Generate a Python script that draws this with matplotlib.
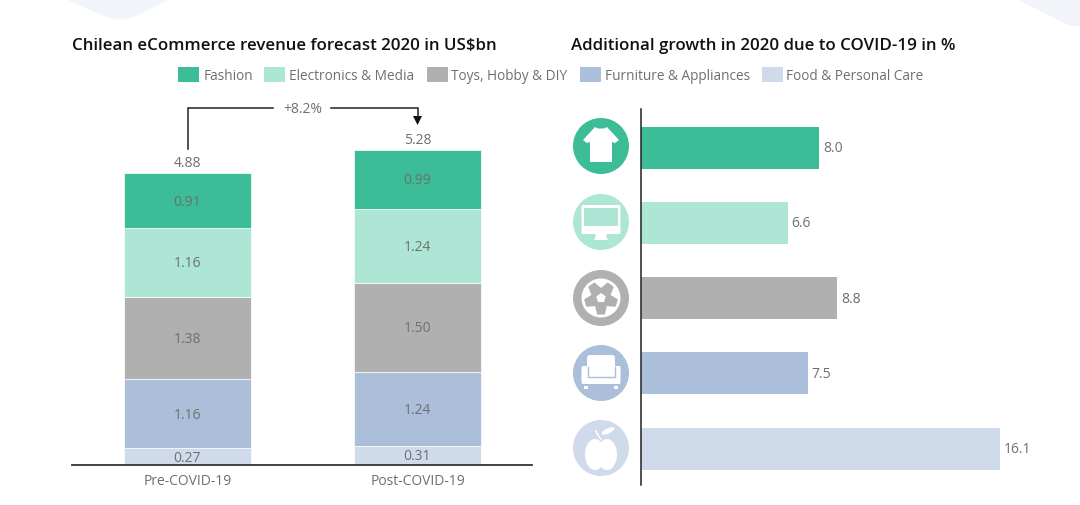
import math
import matplotlib
matplotlib.use("Agg")
import matplotlib.pyplot as plt
from matplotlib.patches import Circle, Polygon, Rectangle, FancyBboxPatch, Ellipse

plt.rcParams['font.family'] = ['Open Sans', 'DejaVu Sans']

# ---- data
categories = ["Fashion", "Electronics & Media", "Toys, Hobby & DIY", "Furniture & Appliances", "Food & Personal Care"]
colors = ["#3CBD97", "#AEE6D6", "#B0B0B0", "#ABBFDB", "#CFDBEA"]
periods = ["Pre-COVID-19", "Post-COVID-19"]
pre_values = [0.91, 1.16, 1.38, 1.16, 0.27]
post_values = [0.99, 1.24, 1.50, 1.24, 0.31]
totals = ["4.88", "5.28"]
pre_labels = ["0.91", "1.16", "1.38", "1.16", "0.27"]
post_labels = ["0.99", "1.24", "1.50", "1.24", "0.31"]
growth = [8.0, 6.6, 8.8, 7.5, 16.1]
change_label = "+8.2%"
title_left = "Chilean eCommerce revenue forecast 2020 in US$bn"
title_right = "Additional growth in 2020 due to COVID-19 in %"

W, H = 1080, 506
TXT = "#6f6f6f"
FS = 10
fig = plt.figure(figsize=(W / 100, H / 100), dpi=100, facecolor="white")

def axes_px(x0, y0, x1, y1, **kw):
    return fig.add_axes([x0 / W, 1 - y1 / H, (x1 - x0) / W, (y1 - y0) / H], **kw)

# pixel overlay (decorations, legend, icons)
bg = axes_px(0, 0, W, H, zorder=0)
bg.set_xlim(0, W); bg.set_ylim(H, 0); bg.axis("off")
blob = "#F1F4F9"
bg.add_patch(Polygon([(66, 0), (90, 11), (106, 18), (120, 20.5), (134, 18), (150, 10), (170, 0)], fc=blob, ec="none"))
bg.add_patch(Polygon([(1016, 0), (1060, 22), (1070, 27), (1080, 27), (1080, 0)], fc=blob, ec="none"))

# left stacked chart
ax = axes_px(72, 101, 532, 465.5, zorder=1)
ax.patch.set_alpha(0)
ax.set_xlim(-115.5 / 230, 1 + 114.5 / 230)
ax.set_ylim(0, 364.5 / 59.65)
for i, (vals, labs) in enumerate(zip((pre_values, post_values), (pre_labels, post_labels))):
    bottom = 0.0
    for v, c, lab in zip(vals[::-1], colors[::-1], labs[::-1]):
        ax.bar(i, v, 0.552, bottom=bottom, color=c, edgecolor="white", linewidth=0.5)
        ax.text(i, bottom + v / 2 - 0.01, lab, ha="center", va="center", fontsize=FS, color=TXT)
        bottom += v
    ax.text(i, bottom + 0.05, totals[i], ha="center", va="bottom", fontsize=FS, color=TXT)
for s in ("top", "left", "right"):
    ax.spines[s].set_visible(False)
ax.spines["bottom"].set_color("#333333"); ax.spines["bottom"].set_linewidth(1.3)
ax.set_yticks([])
ax.set_xticks([0, 1], periods, fontsize=FS, color=TXT)
ax.tick_params(axis="x", length=0, pad=6)

# right bar chart
ax2 = axes_px(641, 110, 1060, 486, zorder=1)
ax2.patch.set_alpha(0)
ax2.set_xlim(0, 419 / 22.3)
ax2.set_ylim((486 - 148.6) / 75.25, (110 - 148.6) / 75.25)
ypos = list(range(len(growth)))
ax2.barh(ypos, growth, height=42 / 75.25, color=colors)
for y, v in zip(ypos, growth):
    ax2.text(v + 0.16, y, f"{v:.1f}", va="center", ha="left", fontsize=FS, color=TXT)
for s in ("top", "bottom", "right"):
    ax2.spines[s].set_visible(False)
ax2.spines["left"].set_color("#222222"); ax2.spines["left"].set_linewidth(1.1)
ax2.set_xticks([]); ax2.set_yticks([])

# overlay on top
ov = axes_px(0, 0, W, H, zorder=2)
ov.set_xlim(0, W); ov.set_ylim(H, 0); ov.axis("off"); ov.patch.set_alpha(0)

ov.text(72, 46, title_left, fontsize=12.2, fontweight="semibold", color="#111111", va="center", ha="left")
ov.text(571, 46, title_right, fontsize=12.2, fontweight="semibold", color="#111111", va="center", ha="left")

# legend
leg_box = [178, 264, 427, 580, 762]
leg_txt = [204, 289, 451, 605, 786]
for bx, tx, c, lab in zip(leg_box, leg_txt, colors, categories):
    ov.add_patch(Rectangle((bx, 68), 20.5, 15, fc=c, ec="none"))
    ov.text(tx, 76.5, lab, fontsize=9.8, color=TXT, va="center", ha="left")

# change bracket
lc = "#222222"
ov.plot([187.5, 187.5, 273], [150, 108.5, 108.5], color=lc, lw=1.1, solid_joinstyle="miter")
ov.plot([331, 417.5, 417.5], [108.5, 108.5, 118], color=lc, lw=1.1, solid_joinstyle="miter")
ov.add_patch(Polygon([(413, 117), (422, 117), (417.5, 126)], fc="#111111", ec="none"))
ov.text(302.5, 109, change_label, fontsize=FS, color=TXT, ha="center", va="center")

# icons
cx = 601
cy = [147, 223, 299, 374, 449]
R = 28
for y, c in zip(cy, colors):
    ov.add_patch(Circle((cx, y), R, fc=c, ec="none"))

def P(pts, y, fc="white"):
    ov.add_patch(Polygon([(cx + a, y + b) for a, b in pts], fc=fc, ec="none"))

# t-shirt
y = cy[0]
P([(-6, -19), (-3, -17.5), (3, -17.5), (6, -19), (18, -6), (14, -3), (11, -4), (11, 16), (-11, 16), (-11, -4), (-14, -3), (-18, -6)], y)

# monitor
y = cy[1]
ov.add_patch(FancyBboxPatch((cx - 19.5, y - 17), 39, 29, boxstyle="round,pad=0,rounding_size=1.5", fc="white", ec="none"))
ov.add_patch(Rectangle((cx - 17, y - 14.5), 34, 18.5, fc=colors[1], ec="none"))
P([(-5.5, 12), (5.5, 12), (5.5, 15), (7, 18), (-7, 18), (-5.5, 15)], y)

# football
y = cy[2]
g = colors[2]
ov.add_patch(Circle((cx, y), 19.5, fc="white", ec="none"))
star = []
for k in range(5):
    ang = math.radians(90 + 72 * k)
    for da, r in ((-13, 17), (13, 17), (36, 10)):
        a = ang + math.radians(da)
        star.append((r * math.cos(a), r * math.sin(a)))
P(star, y, g)
pent = [(5 * math.cos(math.radians(-90 + 72 * k)), 5 * math.sin(math.radians(-90 + 72 * k))) for k in range(5)]
P(pent, y)

# armchair
y = cy[3]
ov.add_patch(FancyBboxPatch((cx - 14, y - 18), 28, 24, boxstyle="round,pad=0,rounding_size=3", fc="white", ec="none"))
ov.add_patch(FancyBboxPatch((cx - 19.5, y - 7), 6, 17.5, boxstyle="round,pad=0,rounding_size=1.5", fc="white", ec="none"))
ov.add_patch(FancyBboxPatch((cx + 13.5, y - 7), 6, 17.5, boxstyle="round,pad=0,rounding_size=1.5", fc="white", ec="none"))
ov.add_patch(Rectangle((cx - 19, y + 4), 38, 6.5, fc="white", ec="none"))
ov.plot([cx - 13.5, cx - 13.5, cx + 13.5, cx + 13.5], [y - 6, y + 3.5, y + 3.5, y - 6], color=colors[3], lw=1)
ov.add_patch(Rectangle((cx - 17, y + 12.5), 4, 3.5, fc="white", ec="none"))
ov.add_patch(Rectangle((cx + 13, y + 12.5), 4, 3.5, fc="white", ec="none"))

# apple
y = cy[4]
ov.add_patch(Ellipse((cx - 6, y + 6.5), 20, 31, fc="white", ec="none"))
ov.add_patch(Ellipse((cx + 6, y + 6.5), 20, 31, fc="white", ec="none"))
P([(-0.5, -8), (-6.5, -17), (-5, -18), (1, -8)], y)
ov.add_patch(Ellipse((cx + 7, y - 17), 14, 5, angle=-25, fc="white", ec="none"))

fig.savefig("out.png", dpi=100, facecolor="white")
